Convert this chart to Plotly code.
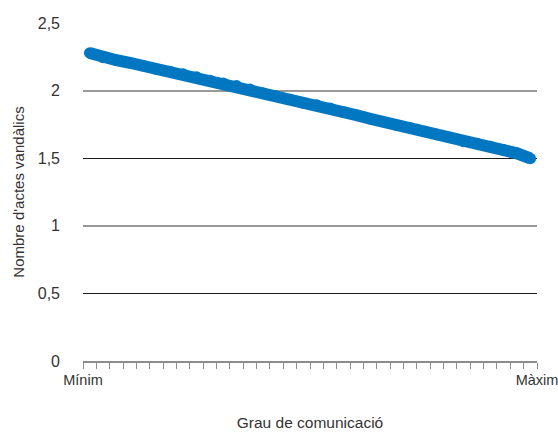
import plotly.graph_objects as go

# 34 steps of "Grau de comunicació" from Mínim to Màxim
n_steps = 34
values = [2.278, 2.245, 2.225, 2.206, 2.184, 2.158, 2.142, 2.122, 2.100, 2.074,
          2.055, 2.036, 2.010, 1.980, 1.958, 1.935, 1.909, 1.893, 1.870, 1.844,
          1.818, 1.792, 1.770, 1.744, 1.724, 1.699, 1.676, 1.653, 1.624, 1.608,
          1.586, 1.562, 1.536, 1.498]
y_ticks = [0, 0.5, 1, 1.5, 2, 2.5]
y_labels = ["0", "0,5", "1", "1,5", "2", "2,5"]
x_end_labels = ["Mínim", "Màxim"]

x_pos = [i + 0.5 for i in range(n_steps)]
x_ticks = list(range(n_steps + 1))
x_text = [x_end_labels[0]] + [""] * (n_steps - 1) + [x_end_labels[1]]

FONT = "Liberation Sans, Arial, sans-serif"
BLUE = "#0077c0"
TXT = "#333333"

fig = go.Figure()
fig.add_trace(go.Scatter(
    x=x_pos, y=values, mode="lines+markers",
    line=dict(color=BLUE, width=12),
    marker=dict(color=BLUE, size=11.5),
    hoverinfo="skip", showlegend=False,
))
# invisible traces to host the gridline axes
fig.add_trace(go.Scatter(x=[0], y=[0], yaxis="y2", mode="markers",
                         marker=dict(opacity=0), showlegend=False, hoverinfo="skip"))
fig.add_trace(go.Scatter(x=[0], y=[0], yaxis="y3", mode="markers",
                         marker=dict(opacity=0), showlegend=False, hoverinfo="skip"))

fig.update_layout(
    width=558, height=432,
    margin=dict(l=83, r=21, t=23, b=71, autoexpand=False),
    paper_bgcolor="white", plot_bgcolor="white",
    separators=",.",
    font=dict(family=FONT, size=15, color=TXT),
    xaxis=dict(
        range=[0, n_steps], tickmode="array", tickvals=x_ticks, ticktext=x_text,
        showgrid=False, zeroline=False, automargin=False,
        showline=True, linecolor="#8c8c8c", linewidth=2,
        ticks="outside", ticklen=6, tickwidth=1, tickcolor="#8c8c8c",
        tickfont=dict(size=14.5, color=TXT), ticklabeloverflow="allow",
        ticklabelstandoff=-1,
        title=dict(text="Grau de comunicació", font=dict(size=15.5, color=TXT), standoff=30),
        fixedrange=True,
    ),
    yaxis=dict(
        range=[0, 2.5], tickmode="array", tickvals=y_ticks, ticktext=y_labels,
        showgrid=False, zeroline=False, showline=False, ticks="", automargin=False,
        ticklabelstandoff=22,
        tickfont=dict(size=16, color=TXT),
        title=dict(text="Nombre d'actes vandàlics", font=dict(size=15, color=TXT), standoff=9),
        fixedrange=True,
    ),
    yaxis2=dict(
        overlaying="y", matches="y", range=[0, 2.5], tickmode="array", tickvals=[1, 2],
        showticklabels=False, showgrid=True, gridcolor="#999999", gridwidth=2,
        zeroline=False, showline=False, automargin=False,
    ),
    yaxis3=dict(
        overlaying="y", matches="y", range=[0, 2.5], tickmode="array", tickvals=[0.5, 1.5, 2.5],
        showticklabels=False, showgrid=True, gridcolor="#1a1a1a", gridwidth=1,
        zeroline=False, showline=False, automargin=False,
    ),
)

fig.write_html("out.html", config={"displayModeBar": False, "staticPlot": True},
               post_script="document.body.style.margin='0';")
